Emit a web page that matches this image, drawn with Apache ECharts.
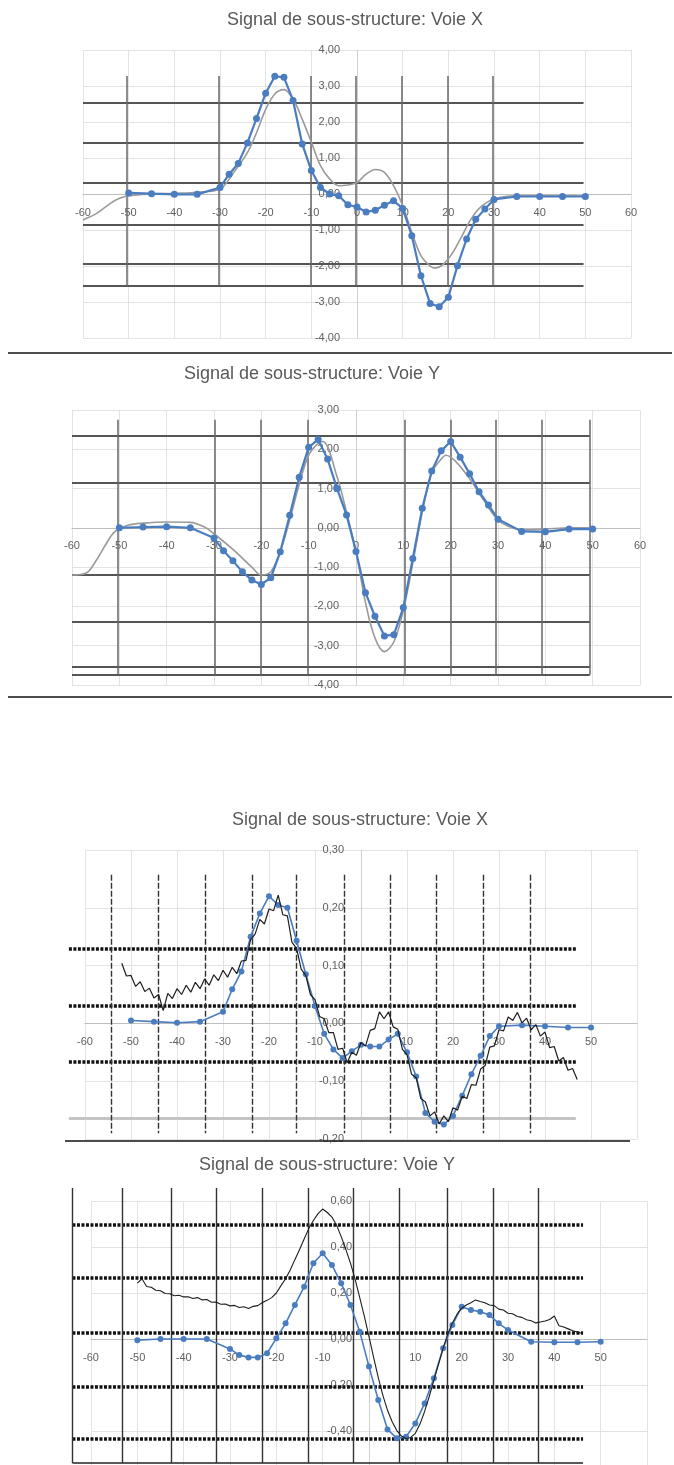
<!DOCTYPE html>
<html><head><meta charset="utf-8">
<script src="https://cdn.jsdelivr.net/npm/echarts@6/dist/echarts.min.js"></script>
<style>html,body{margin:0;padding:0;background:#fff}#c{width:674px;height:1465px}</style>
</head><body><div id="c"></div>
<script>
// ---------- DATA ----------
const titles = ['Signal de sous-structure: Voie X','Signal de sous-structure: Voie Y','Signal de sous-structure: Voie X','Signal de sous-structure: Voie Y'];
const xTicks = [-60,-50,-40,-30,-20,-10,0,10,20,30,40,50,60];

// Chart 1 (Voie X, top)
const blue1 = [[-50,0.03],[-45,0.01],[-40,-0.01],[-35,-0.01],[-30,0.18],[-28,0.55],[-26,0.85],[-24,1.42],[-22,2.1],[-20,2.8],[-18,3.27],[-16,3.24],[-14,2.6],[-12,1.39],[-10,0.65],[-8,0.18],[-6,0.0],[-4,-0.05],[-2,-0.3],[0,-0.36],[2,-0.5],[4,-0.45],[6,-0.31],[8,-0.19],[10,-0.4],[12,-1.16],[14,-2.27],[16,-3.04],[18,-3.13],[20,-2.87],[22,-1.99],[24,-1.25],[26,-0.7],[28,-0.42],[30,-0.15],[35,-0.07],[40,-0.07],[45,-0.07],[50,-0.07]];
const ref1 = [[-60,-0.72],[-57,-0.54],[-54,-0.26],[-52,-0.12],[-50,-0.05],[-45,0.0],[-40,0.02],[-35,0.05],[-30,0.14],[-27,0.6],[-24,1.15],[-22,1.7],[-20,2.35],[-18,2.78],[-16,2.9],[-14,2.64],[-12,2.08],[-10,1.44],[-8,0.79],[-6,0.42],[-4,0.23],[-2,0.25],[0,0.32],[2,0.55],[4,0.68],[6,0.6],[8,0.23],[10,-0.32],[12,-1.06],[14,-1.71],[16,-2.0],[17,-2.06],[19,-1.94],[21,-1.62],[23,-1.16],[25,-0.69],[27,-0.37],[30,-0.14],[35,-0.05],[40,-0.05],[50,-0.06]];

// Chart 2 (Voie Y, top)
const blue2 = [[-50,0.0],[-45,0.02],[-40,0.03],[-35,0.0],[-30,-0.26],[-28,-0.58],[-26,-0.84],[-24,-1.12],[-22,-1.33],[-20,-1.44],[-18,-1.27],[-16,-0.61],[-14,0.32],[-12,1.29],[-10,2.05],[-8,2.25],[-6,1.75],[-4,1.0],[-2,0.33],[0,-0.6],[2,-1.65],[4,-2.25],[6,-2.75],[8,-2.72],[10,-2.03],[12,-0.78],[14,0.5],[16,1.45],[18,1.96],[20,2.2],[22,1.8],[24,1.38],[26,0.92],[28,0.58],[30,0.22],[35,-0.09],[40,-0.1],[45,-0.03],[50,-0.03]];
const ref2 = [[-60,-1.2],[-57,-1.15],[-55,-0.85],[-53,-0.45],[-51,-0.1],[-48,0.07],[-45,0.12],[-40,0.15],[-35,0.14],[-32,0.02],[-30,-0.15],[-26,-0.55],[-22,-1.0],[-20,-1.2],[-18,-1.12],[-16,-0.6],[-14,0.2],[-12,1.1],[-10,1.85],[-8,2.15],[-7,2.2],[-4,1.3],[-2,0.4],[0,-0.6],[2,-1.9],[4,-2.8],[6,-3.15],[8,-2.9],[10,-2.1],[12,-0.9],[14,0.4],[16,1.4],[18,1.75],[19,1.85],[21,1.7],[24,1.25],[27,0.7],[30,0.2],[33,0.0],[36,-0.05],[40,-0.03],[45,0.0],[50,0.0]];

// Chart 3 (Voie X, bottom)
const blue3 = [[-50,0.005],[-45,0.003],[-40,0.001],[-35,0.003],[-30,0.02],[-28,0.059],[-26,0.09],[-24,0.15],[-22,0.19],[-20,0.22],[-18,0.205],[-16,0.2],[-14,0.143],[-12,0.085],[-10,0.03],[-8,-0.018],[-6,-0.045],[-4,-0.06],[-2,-0.048],[0,-0.037],[2,-0.04],[4,-0.04],[6,-0.028],[8,-0.018],[10,-0.05],[12,-0.092],[14,-0.155],[16,-0.17],[18,-0.175],[20,-0.16],[22,-0.125],[24,-0.088],[26,-0.056],[28,-0.022],[30,-0.005],[35,-0.003],[40,-0.005],[45,-0.007],[50,-0.007]];
const noisy3 = [[-52,0.104],[-51,0.082],[-50,0.083],[-49,0.064],[-48,0.072],[-47,0.055],[-46,0.061],[-45,0.044],[-44,0.05],[-43,0.022],[-42,0.052],[-41,0.043],[-40,0.06],[-39,0.05],[-38,0.066],[-37,0.054],[-36,0.071],[-35,0.06],[-34,0.077],[-33,0.066],[-32,0.084],[-31,0.074],[-30,0.092],[-29,0.08],[-28,0.097],[-27,0.086],[-26,0.108],[-25,0.109],[-24,0.145],[-23,0.155],[-22,0.18],[-21,0.172],[-20,0.198],[-19,0.195],[-18,0.222],[-17,0.188],[-16,0.186],[-15,0.14],[-14,0.13],[-13,0.094],[-12,0.083],[-11,0.05],[-10,0.041],[-9,0.012],[-8,0.008],[-7,-0.016],[-6,-0.016],[-5,-0.045],[-4,-0.043],[-3,-0.068],[-2,-0.05],[-1,-0.055],[0,-0.033],[1,-0.039],[2,-0.012],[3,-0.009],[4,0.02],[5,0.008],[6,0.02],[7,-0.006],[8,-0.01],[9,-0.045],[10,-0.054],[11,-0.088],[12,-0.094],[13,-0.13],[14,-0.136],[15,-0.16],[16,-0.153],[17,-0.174],[18,-0.16],[19,-0.17],[20,-0.146],[21,-0.15],[22,-0.126],[23,-0.13],[24,-0.106],[25,-0.107],[26,-0.079],[27,-0.073],[28,-0.041],[29,-0.039],[30,-0.011],[31,-0.013],[32,0.011],[33,0.005],[34,0.019],[35,0.001],[36,0.009],[37,-0.011],[38,-0.002],[39,-0.022],[40,-0.015],[41,-0.042],[42,-0.04],[43,-0.065],[44,-0.059],[45,-0.081],[46,-0.078],[47,-0.097]];

// Chart 4 (Voie Y, bottom)
const blue4 = [[-50,-0.005],[-45,0.0],[-40,0.0],[-35,0.0],[-30,-0.043],[-28,-0.07],[-26,-0.08],[-24,-0.08],[-22,-0.062],[-20,0.003],[-18,0.068],[-16,0.148],[-14,0.227],[-12,0.329],[-10,0.373],[-8,0.322],[-6,0.242],[-4,0.148],[-2,0.032],[0,-0.12],[2,-0.265],[4,-0.393],[6,-0.432],[8,-0.425],[10,-0.367],[12,-0.28],[14,-0.171],[16,-0.04],[18,0.061],[20,0.14],[22,0.126],[24,0.119],[26,0.104],[28,0.068],[30,0.039],[35,-0.012],[40,-0.014],[45,-0.014],[50,-0.012]];
const noisy4 = [[-50,0.243],[-49,0.262],[-48,0.228],[-47,0.225],[-46,0.212],[-45,0.21],[-44,0.198],[-43,0.197],[-42,0.188],[-41,0.19],[-40,0.183],[-39,0.184],[-38,0.176],[-37,0.18],[-36,0.17],[-35,0.172],[-34,0.16],[-33,0.161],[-32,0.151],[-31,0.152],[-30,0.144],[-29,0.146],[-28,0.137],[-27,0.14],[-26,0.133],[-25,0.142],[-24,0.145],[-23,0.159],[-22,0.168],[-21,0.18],[-20,0.2],[-19,0.232],[-18,0.262],[-17,0.3],[-16,0.345],[-15,0.388],[-14,0.435],[-13,0.48],[-12,0.515],[-11,0.545],[-10,0.565],[-9,0.55],[-8,0.53],[-7,0.495],[-6,0.445],[-5,0.39],[-4,0.33],[-3,0.26],[-2,0.18],[-1,0.098],[0,0.01],[1,-0.08],[2,-0.168],[3,-0.245],[4,-0.31],[5,-0.36],[6,-0.398],[7,-0.422],[8,-0.433],[9,-0.428],[10,-0.41],[11,-0.37],[12,-0.315],[13,-0.25],[14,-0.18],[15,-0.11],[16,-0.04],[17,0.022],[18,0.07],[19,0.108],[20,0.134],[21,0.148],[22,0.158],[23,0.17],[24,0.163],[25,0.158],[26,0.148],[27,0.145],[28,0.13],[29,0.126],[30,0.112],[31,0.11],[32,0.098],[33,0.094],[34,0.084],[35,0.079],[36,0.07],[37,0.074],[38,0.078],[39,0.085],[40,0.1],[41,0.058],[42,0.052],[43,0.044],[44,0.036],[45,0.03],[46,0.024]];

// Overlay (scan) lines, in data units
const ov1H = [2.53,1.42,0.30,-0.85,-1.94,-2.55], ov1HX = [-60,49.6];
const ov1V = [-50.4,-30.3,-10.2,-0.2,9.8,19.8,29.7], ov1VY = [3.28,-2.55];
const ov2H = [2.34,1.14,-1.19,-2.38,-3.54,-3.73], ov2HX = [-60,49.4];
const ov2V = [-50.4,-29.9,-20.2,-10.2,10.3,20,29.5,39.2,49.4], ov2VY = [2.75,-3.74];
const ov3H = [0.129,0.031,-0.066], ov3Gray = [-0.164], ov3HX = [-63.5,46.7];
const ov3V = [-54.4,-44,-33.8,-23.7,-14,-3.7,6.3,16.3,26.5,36.7], ov3VY = [0.257,-0.19];
const ov4H = [0.497,0.265,0.026,-0.206,-0.435], ov4Bottom = [-0.539], ov4HX = [-64,46.2];
const ov4V = [-64,-53.2,-42.6,-32.9,-23,-13.2,-3.4,6.6,16.8,26.8,36.6], ov4VY = [0.657,-0.539];

// ---------- LAYOUT ----------
const grids = [
  {left:83, top:50, width:548, height:288},
  {left:72, top:410, width:568, height:275},
  {left:85, top:850, width:552, height:289},
  {left:91, top:1201, width:556, height:276}
];
const yRanges = [[-4,4,1],[-4,3,1],[-0.2,0.3,0.1],[-0.6,0.6,0.2]];
const titlePos = [[355,20],[312,374],[360,820],[327,1165]];
const hideX = [[],[],[0,60],[0,60]];

const BLUE = '#4a7cc0';
const FONT = 'Liberation Sans, Arial, sans-serif';

const hSegs = (ys, xr) => ys.map(y => ({coords: [[xr[0], y], [xr[1], y]]}));
const vSegs = (xs, yr) => xs.map(x => ({coords: [[x, yr[0]], [x, yr[1]]]}));
function ovl(i, data, style, z) {
  return {type:'lines', coordinateSystem:'cartesian2d', xAxisIndex:i, yAxisIndex:i, polyline:false,
    clip:false, silent:true, z:z||1, animation:false, lineStyle:Object.assign({opacity:1}, style), data:data};
}

const chart = echarts.init(document.getElementById('c'), null, {renderer:'canvas'});
const xAxis = [], yAxis = [];
grids.forEach((g, i) => {
  g.outerBoundsMode = 'none';
  g.containLabel = false;
  const r = yRanges[i];
  // pixel offsets that put each axis on the other axis' zero
  const zeroY = g.top + g.height * r[1] / (r[1] - r[0]);
  const zeroX = g.left + g.width / 2;
  xAxis.push({type:'value', gridIndex:i, min:-60, max:60, interval:10, position:'bottom',
    offset: -(g.top + g.height - zeroY),
    axisLine:{show:true, onZero:false, lineStyle:{color:'#bdbdbd', width:1}},
    axisTick:{show:false},
    axisLabel:{fontSize:11, color:'#606060', fontFamily:FONT, margin:13,
      formatter: v => hideX[i].indexOf(v) >= 0 ? '' : String(v)},
    splitLine:{show:true, lineStyle:{color:'#e3e3e3', width:1}}});
  yAxis.push({type:'value', gridIndex:i, min:r[0], max:r[1], interval:r[2], position:'left',
    offset: -(zeroX - g.left),
    axisLine:{show:true, onZero:false, lineStyle:{color:'#d0d0d0', width:1}},
    axisTick:{show:false},
    axisLabel:{fontSize:11, color:'#606060', fontFamily:FONT, margin:17,
      formatter: v => v.toFixed(2).replace('.', ',')},
    splitLine:{show:true, lineStyle:{color:'#e3e3e3', width:1}}});
});

const series = [
  // chart 1
  ovl(0, hSegs(ov1H, ov1HX), {color:'#555', width:2}),
  ovl(0, vSegs(ov1V, ov1VY), {color:'#666', width:1.5}),
  {type:'line', xAxisIndex:0, yAxisIndex:0, data:ref1, smooth:0.35, symbol:'none', z:3,
    lineStyle:{color:'#9a9a9a', width:1.6}},
  {type:'line', xAxisIndex:0, yAxisIndex:0, data:blue1, symbol:'circle', symbolSize:7, z:4,
    itemStyle:{color:BLUE}, lineStyle:{color:BLUE, width:2.2}},
  // chart 2
  ovl(1, hSegs(ov2H, ov2HX), {color:'#555', width:2}),
  ovl(1, vSegs(ov2V, ov2VY), {color:'#666', width:1.5}),
  {type:'line', xAxisIndex:1, yAxisIndex:1, data:ref2, smooth:0.35, symbol:'none', z:3,
    lineStyle:{color:'#9a9a9a', width:1.6}},
  {type:'line', xAxisIndex:1, yAxisIndex:1, data:blue2, symbol:'circle', symbolSize:7, z:4,
    itemStyle:{color:BLUE}, lineStyle:{color:BLUE, width:2.2}},
  // chart 3
  ovl(2, hSegs(ov3H, ov3HX), {color:'#111', width:3.5, type:[3,1.5]}),
  ovl(2, hSegs(ov3Gray, ov3HX), {color:'#c4c4c4', width:3}),
  ovl(2, vSegs(ov3V, ov3VY), {color:'#333', width:1.4, type:[6,2]}),
  {type:'line', xAxisIndex:2, yAxisIndex:2, data:blue3, symbol:'circle', symbolSize:6, z:3,
    itemStyle:{color:BLUE}, lineStyle:{color:BLUE, width:1.6}},
  {type:'line', xAxisIndex:2, yAxisIndex:2, data:noisy3, symbol:'none', z:4,
    lineStyle:{color:'#1e1e1e', width:1.2}},
  // chart 4
  ovl(3, hSegs(ov4H, ov4HX), {color:'#111', width:3.5, type:[3,1.5]}),
  ovl(3, hSegs(ov4Bottom, ov4HX), {color:'#222', width:1.5}),
  ovl(3, vSegs(ov4V, ov4VY), {color:'#333', width:1.4}),
  {type:'line', xAxisIndex:3, yAxisIndex:3, data:blue4, symbol:'circle', symbolSize:6, z:3,
    itemStyle:{color:BLUE}, lineStyle:{color:BLUE, width:1.6}},
  {type:'line', xAxisIndex:3, yAxisIndex:3, data:noisy4, symbol:'none', z:4,
    lineStyle:{color:'#1e1e1e', width:1.1}}
];

const graphic = titles.map((t, i) => ({type:'text', x:titlePos[i][0], y:titlePos[i][1], z:10,
  style:{text:t, fontSize:18, fontFamily:FONT, fill:'#595959', textAlign:'center', textVerticalAlign:'middle'}}));
[[8,353,672],[8,697,672],[65,1141,630]].forEach(s => graphic.push({type:'line', z:20,
  shape:{x1:s[0], y1:s[1], x2:s[2], y2:s[1]}, style:{stroke:'#111', lineWidth:1.6}}));

chart.setOption({animation:false, backgroundColor:'#fff', grid:grids, xAxis:xAxis, yAxis:yAxis, series:series, graphic:graphic});
</script></body></html>
